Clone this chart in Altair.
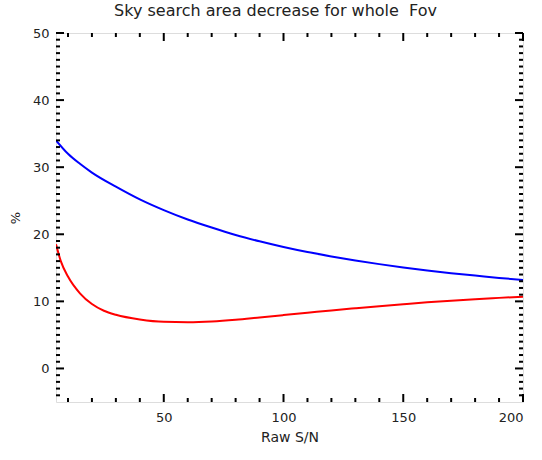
import altair as alt
import pandas as pd

# --- data ---
sn_blue = [5, 10, 15, 20, 30, 40, 50, 60, 70, 80, 90, 100, 110, 120, 130, 140, 150, 160, 170, 180, 190, 200]
pct_blue = [34.0, 32.0, 30.5, 29.2, 27.1, 25.2, 23.6, 22.2, 21.0, 19.9, 18.95, 18.1, 17.35, 16.7, 16.1, 15.55, 15.05, 14.6, 14.2, 13.85, 13.5, 13.2]

sn_red = [5, 7, 10, 15, 20, 25, 30, 40, 50, 60, 70, 80, 90, 100, 110, 120, 130, 140, 150, 160, 170, 180, 190, 200]
pct_red = [18.5, 16.0, 13.7, 11.2, 9.6, 8.6, 8.0, 7.3, 6.95, 6.9, 7.0, 7.25, 7.6, 7.95, 8.3, 8.65, 8.97, 9.28, 9.57, 9.85, 10.1, 10.33, 10.52, 10.7]

x_major = [50, 100, 150, 200]
x_minor = [10, 20, 30, 40, 60, 70, 80, 90, 110, 120, 130, 140, 160, 170, 180, 190]
y_major = [0, 10, 20, 30, 40, 50]
y_minor = [v for v in range(-4, 50) if v % 10 != 0]

title = "Sky search area decrease for whole \u00a0Fov"
x_title = "Raw S/N"
y_title = "%"

W, H = 467, 369
FONT = "DejaVu Sans"
XDOM = [5, 200]
YDOM = [-5, 50]

df = pd.concat([
    pd.DataFrame({"sn": sn_blue, "pct": pct_blue, "series": "blue"}),
    pd.DataFrame({"sn": sn_red, "pct": pct_red, "series": "red"}),
])

xs = alt.Scale(domain=XDOM, nice=False, zero=False)
ys = alt.Scale(domain=YDOM, nice=False, zero=False)

lines = alt.Chart(df).mark_line(strokeWidth=2, interpolate="monotone", clip=True).encode(
    x=alt.X("sn:Q", scale=xs, title=x_title,
            axis=alt.Axis(values=x_major, ticks=False, domain=False, grid=False,
                          labelFontSize=13, labelFont=FONT, labelColor="#222",
                          labelPadding=9, titleFont=FONT, titleFontSize=14,
                          titleFontWeight="normal", titleColor="#222", titlePadding=6)),
    y=alt.Y("pct:Q", scale=ys, title=y_title,
            axis=alt.Axis(values=y_major, ticks=False, domain=False, grid=False,
                          labelFontSize=13, labelFont=FONT, labelColor="#222",
                          labelPadding=7, titleFont=FONT, titleFontSize=13,
                          titleFontWeight="normal", titleColor="#222", titlePadding=10)),
    color=alt.Color("series:N", scale=alt.Scale(domain=["blue", "red"], range=["#0000ff", "#ff0000"]), legend=None),
    detail="series:N",
)

def xticks(vals, length):
    d = pd.DataFrame({"v": vals})
    bottom = alt.Chart(d).mark_rule(color="black", strokeWidth=2).encode(
        x=alt.X("v:Q", scale=xs), y=alt.value(H), y2=alt.value(H - length))
    top = alt.Chart(d).mark_rule(color="black", strokeWidth=2).encode(
        x=alt.X("v:Q", scale=xs), y=alt.value(0), y2=alt.value(length))
    return [bottom, top]

def yticks(vals, length):
    d = pd.DataFrame({"v": vals})
    left = alt.Chart(d).mark_rule(color="black", strokeWidth=2).encode(
        y=alt.Y("v:Q", scale=ys), x=alt.value(0), x2=alt.value(length))
    right = alt.Chart(d).mark_rule(color="black", strokeWidth=2).encode(
        y=alt.Y("v:Q", scale=ys), x=alt.value(W), x2=alt.value(W - length))
    return [left, right]

layers = [lines] + xticks(x_major, 8) + xticks(x_minor, 4) + yticks(y_major, 8) + yticks(y_minor, 4)

chart = alt.layer(*layers).properties(
    width=W, height=H,
    title=alt.TitleParams(title, font=FONT, fontSize=16, fontWeight="normal", color="#222",
                          anchor="middle", offset=8, dx=-14),
    autosize=alt.AutoSizeParams(type="none"),
    padding={"left": 56, "top": 33, "right": 19, "bottom": 58},
).configure_view(stroke="black", strokeWidth=2.5).configure(background="white")

chart.save("out.html", embed_options={"renderer": "svg", "actions": False})
